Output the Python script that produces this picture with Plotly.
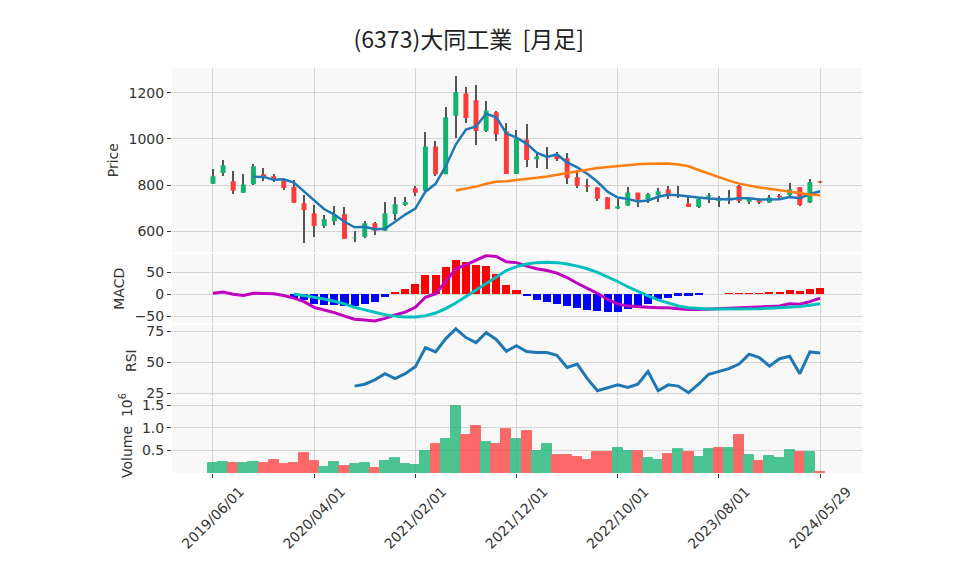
import plotly.graph_objects as go
from plotly.subplots import make_subplots
import pandas as pd

# monthly candles, 2019/06 .. 2024/05 plus the partial month 2024/05/29
dates = [d.strftime('%Y/%m/%d') for d in pd.date_range('2019-06-01', '2024-05-01', freq='MS')] + ['2024/05/29']

opens = [806, 853, 817, 767, 804, 848, 839, 823, 793, 722,
         679, 624, 644, 675, 571, 577, 636, 603, 676, 715,
         787, 776, 968, 848, 1100, 1197, 1167, 1035, 1116, 1033,
         849, 998, 912, 922, 934, 917, 835, 800, 790, 747,
         699, 712, 768, 738, 758, 781, 759, 721, 706, 750,
         732, 740, 797, 728, 735, 725, 755, 757, 791, 725, 816]
highs = [869, 908, 862, 850, 891, 873, 850, 829, 823, 758,
         714, 673, 711, 708, 603, 644, 639, 728, 747, 750,
         797, 1032, 992, 1140, 1272, 1225, 1232, 1166, 1119, 1070,
         1037, 1063, 941, 967, 945, 941, 865, 826, 793, 747,
         742, 794, 768, 765, 790, 797, 797, 750, 744, 768,
         754, 780, 800, 750, 742, 758, 762, 809, 791, 826, 816]
lows = [806, 842, 764, 767, 800, 819, 814, 780, 724, 548,
        578, 613, 629, 568, 555, 571, 585, 603, 650, 711,
        755, 776, 840, 848, 1006, 1071, 973, 1032, 993, 849,
        849, 880, 876, 872, 905, 804, 786, 771, 732, 696,
        696, 712, 705, 725, 728, 742, 746, 706, 703, 725,
        706, 718, 725, 718, 718, 721, 740, 754, 711, 721, 812]
closes = [839, 886, 776, 803, 882, 833, 826, 788, 724, 693,
          624, 653, 670, 568, 574, 636, 603, 679, 718, 727,
          767, 968, 848, 1094, 1202, 1091, 1035, 1123, 1021, 849,
          1000, 909, 924, 926, 912, 830, 797, 793, 742, 696,
          708, 768, 737, 761, 774, 754, 760, 706, 740, 757,
          742, 747, 732, 742, 725, 747, 748, 783, 715, 813, 812]

ma5 = [None] * 4 + [837, 836, 824, 826, 811, 773,
                    731, 696, 673, 642, 618, 620, 610, 612, 642, 673,
                    699, 772, 806, 881, 976, 1041, 1054, 1109, 1094, 1024,
                    1006, 980, 941, 922, 933, 899, 877, 850, 815, 772,
                    747, 741, 730, 734, 750, 759, 757, 751, 747, 743,
                    741, 738, 744, 744, 738, 739, 739, 749, 744, 761, 774]
ma25 = [None] * 24 + [777, 785, 794, 806, 815, 817,
                      821, 827, 832, 838, 846, 854, 861, 867, 874, 879,
                      884, 888, 891, 893, 894, 894, 890, 882, 866, 850,
                      836, 820, 807, 797, 790, 785, 778, 772, 765, 760, 757]

macd = [2, 5, 0, -3, 2, 2, 1, -3, -9, -17,
        -30, -36, -42, -50, -57, -59, -61, -55, -47, -41,
        -30, -7, 1, 29, 58, 67, 77, 88, 86, 74,
        72, 64, 58, 54, 48, 38, 25, 14, 2, -12,
        -22, -27, -29, -30, -31, -31, -33, -35, -35, -34,
        -33, -32, -31, -30, -30, -28, -27, -22, -23, -17, -9]
signal = [None] * 8 + [0.5, -3,
                       -7, -11, -16, -22, -30, -36, -42, -47, -50, -52,
                       -52, -49, -43, -33, -20, -5, 10, 25, 40, 54,
                       63, 69, 72, 73, 72, 69, 64, 58, 50, 40,
                       29, 17, 6, -4, -13, -20, -27, -31, -33, -34,
                       -34, -34, -34, -33, -33, -32, -31, -30, -28, -25, -22]
hist = [None] * 8 + [-9, -14,
                     -23, -25, -26, -28, -27, -23, -19, -8, 3, 11,
                     22, 42, 44, 62, 78, 72, 67, 63, 46, 20,
                     10, -5, -14, -19, -22, -28, -33, -36, -40, -42,
                     -42, -34, -27, -23, -11, -9, -4, -4, -2, 0,
                     0, 2, 2, 2, 2, 4, 4, 8, 6, 11, 13]

rsi = [None] * 14 + [31, 32.5, 36, 41, 37, 41,
                     46.5, 62, 58.5, 69, 77, 70, 66, 74, 68.5, 59,
                     63.5, 58.8, 58, 58, 55.7, 46, 48.7, 37, 27.3, 29.4,
                     32, 30, 32.5, 42.8, 27.3, 32, 31, 25.7, 32.5, 40.5,
                     42.5, 45, 48.7, 56.7, 54, 47, 53, 55, 41, 58.5, 57.7]

# volume in millions of shares
vol_m = [0.21, 0.235, 0.21, 0.21, 0.235, 0.21, 0.29, 0.19, 0.23, 0.45,
         0.27, 0.14, 0.235, 0.16, 0.19, 0.21, 0.10, 0.26, 0.32, 0.19,
         0.17, 0.49, 0.63, 0.76, 1.49, 0.85, 1.03, 0.68, 0.65, 0.98,
         0.76, 0.93, 0.48, 0.63, 0.40, 0.40, 0.36, 0.29, 0.47, 0.47,
         0.56, 0.49, 0.49, 0.32, 0.29, 0.43, 0.54, 0.47, 0.36, 0.54,
         0.56, 0.56, 0.85, 0.40, 0.27, 0.38, 0.32, 0.51, 0.47, 0.47, 0.03]

tick_idx = [0, 10, 20, 30, 40, 50, 60]

UP = '#12b36f'
DOWN = '#ff3a3a'
FONT = 'DejaVu Sans'
TITLE_FONT = 'Noto Sans CJK JP'

fig = make_subplots(rows=4, cols=1, shared_xaxes=True, vertical_spacing=0.005)

# wicks (drawn as thin bars so they sit under the candle bodies)
fig.add_trace(go.Bar(x=dates, y=[h - l for h, l in zip(highs, lows)], base=lows,
                     width=0.12, marker=dict(color='#555555', line=dict(width=0)),
                     hoverinfo='skip'), row=1, col=1)
fig.add_trace(go.Candlestick(x=dates, open=opens, high=highs, low=lows, close=closes,
                             increasing=dict(fillcolor=UP, line=dict(color=UP, width=0)),
                             decreasing=dict(fillcolor=DOWN, line=dict(color=DOWN, width=0)),
                             whiskerwidth=0), row=1, col=1)
fig.add_trace(go.Scatter(x=dates, y=ma5, mode='lines', line=dict(color='#1f77b4', width=2.5)), row=1, col=1)
fig.add_trace(go.Scatter(x=dates, y=ma25, mode='lines', line=dict(color='#ff7f0e', width=2.5)), row=1, col=1)

# MACD
hist_col = ['#ff0000' if (v is not None and v >= 0) else '#0000ff' for v in hist]
fig.add_trace(go.Bar(x=dates, y=hist, width=0.8, marker=dict(color=hist_col, line=dict(width=0))), row=2, col=1)
fig.add_trace(go.Scatter(x=dates, y=macd, mode='lines', line=dict(color='#bf00bf', width=3)), row=2, col=1)
fig.add_trace(go.Scatter(x=dates, y=signal, mode='lines', line=dict(color='#00bfbf', width=3)), row=2, col=1)

# RSI
fig.add_trace(go.Scatter(x=dates, y=rsi, mode='lines', line=dict(color='#1f77b4', width=3)), row=3, col=1)

# volume, coloured by close vs previous close
vol_col = [UP] + [UP if closes[i] >= closes[i - 1] else DOWN for i in range(1, len(closes))]
fig.add_trace(go.Bar(x=dates, y=vol_m, width=1.0, opacity=0.75,
                     marker=dict(color=vol_col, line=dict(color=vol_col, width=1))), row=4, col=1)

fig.update_layout(
    title=dict(text='(6373)大同工業  [月足]', x=0.481, y=0.944, xanchor='center', yanchor='middle',
               font=dict(family=TITLE_FONT, size=23, color='#222222')),
    showlegend=False,
    width=958, height=575,
    margin=dict(l=164, r=104, t=60, b=110),
    paper_bgcolor='white', plot_bgcolor='#f8f8f8',
    font=dict(family=FONT, size=14, color='#333333'),
    bargap=0,
)

domains = [[0.545, 1.0], [0.37, 0.54], [0.19, 0.365], [0.0, 0.185]]
ranges = [[510, 1307], [-66, 91], [23, 80], [0, 1.66]]
titles = ['Price', 'MACD', 'RSI', 'Volume  10<sup>6</sup>']
yticks = [[600, 800, 1000, 1200], [-50, 0, 50], [25, 50, 75], [0.5, 1.0, 1.5]]
for i in range(4):
    fig.update_yaxes(row=i + 1, col=1, domain=domains[i], range=ranges[i], automargin=False,
                     title=dict(text=titles[i], standoff=6, font=dict(size=14)),
                     tickvals=yticks[i], showgrid=True, gridcolor='#d4d4d4', gridwidth=1,
                     zeroline=False, ticks='outside', ticklen=4, tickcolor='#333333',
                     tickformat='.1f' if i == 3 else None)

fig.update_xaxes(type='category', range=[-4.05, 64.15], tickvals=[dates[i] for i in tick_idx],
                 showgrid=True, gridcolor='#d4d4d4', gridwidth=1, rangeslider=dict(visible=False),
                 zeroline=False, automargin=False)
fig.update_xaxes(row=4, col=1, tickangle=-45, ticks='outside', ticklen=4, tickcolor='#333333',
                 tickfont=dict(size=14), ticklabelshift=27)

fig.write_html("out.html")
